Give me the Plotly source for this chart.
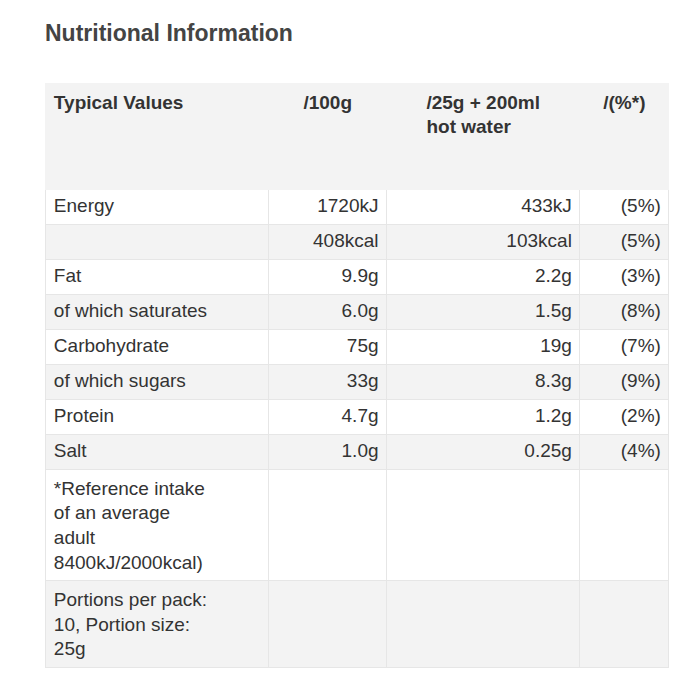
import plotly.graph_objects as go

headers = ["<br><b>Typical Values</b>", "<br><b>/100g</b>", "<br><b>/25g + 200ml<br>hot water</b>", "<br><b>/(%*)</b>"]
nutrients = ["Energy", "", "Fat", "of which saturates", "Carbohydrate", "of which sugars",
             "Protein", "Salt",
             "*Reference intake<br>of an average<br>adult<br>8400kJ/2000kcal)",
             "Portions per pack:<br>10, Portion size:<br>25g"]
per_100g = ["1720kJ", "408kcal", "9.9g", "6.0g", "75g", "33g", "4.7g", "1.0g", "", ""]
per_portion = ["433kJ", "103kcal", "2.2g", "1.5g", "19g", "8.3g", "1.2g", "0.25g", "", ""]
ri_pct = ["(5%)", "(5%)", "(3%)", "(8%)", "(7%)", "(9%)", "(2%)", "(4%)", "", ""]

row_fill = ["white" if i % 2 == 0 else "#f3f3f3" for i in range(len(nutrients))]

# page has 8px body padding, so shift everything up/left by 8px
fig = go.Figure(go.Table(
    domain=dict(x=[37 / 684, 646 / 684], y=[0, 1 - 74 / 684]),
    columnwidth=[218, 115, 189, 87],
    header=dict(
        values=headers,
        fill_color="#f3f3f3",
        line_color="#f3f3f3",
        align=["left", "center", "center", "center"],
        font=dict(family="Liberation Sans, Arial", size=19, color="#333"),
        height=106,
    ),
    cells=dict(
        values=[nutrients, per_100g, per_portion, ri_pct],
        fill_color=[row_fill] * 4,
        line_color="#e6e6e6",
        align=["left", "right", "right", "right"],
        font=dict(family="Liberation Sans, Arial", size=19, color="#333"),
        height=35,
    ),
))

fig.update_layout(
    width=700, height=700,
    margin=dict(l=0, r=0, t=0, b=0),
    paper_bgcolor="white",
    title=dict(text="<b>Nutritional Information</b>", x=37 / 700, xanchor="left",
               y=1 - 25 / 700, yanchor="middle",
               font=dict(family="Liberation Sans, Arial", size=23, color="#444")),
)

fig.write_html("out.html")
